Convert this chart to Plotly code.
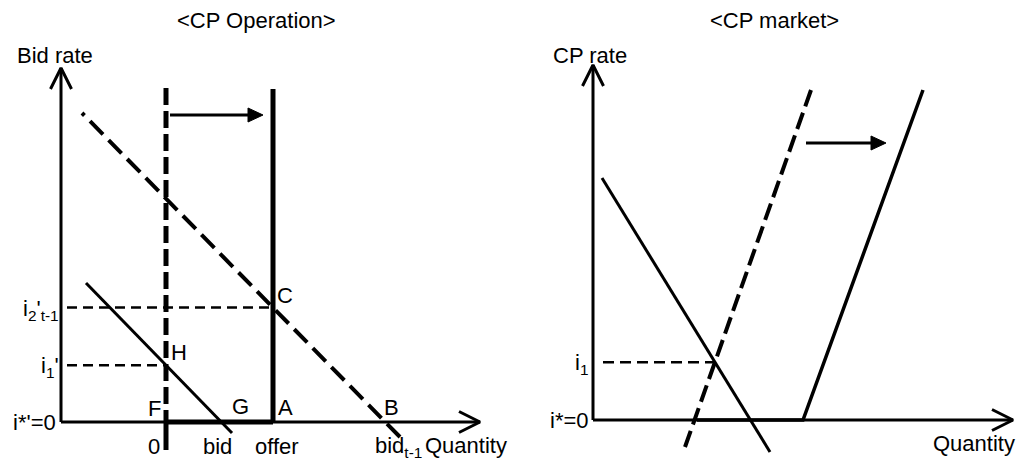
import plotly.graph_objects as go

# ---------------- data (diagram units) ----------------
# Left panel <CP Operation>: quantity origin at the old offer line, rate 0 at x-axis
op_rate_axis_q = -10.5
op_qty_axis_end = 31.4
op_rate_axis_end = 35.4
old_offer_q = 0.0
old_offer_r = [-2.8, 0.0, 33.4]
offer_q = 10.7
offer_r = [0.0, 33.3]
bid_prev_q = [23.4, -8.4]
bid_prev_r = [-1.5, 30.9]
bid_q = [-8.0, 6.6]
bid_r = [13.9, -1.1]
op_shift_q = [0.4, 9.7]
op_shift_r = 30.7
op_level_start_q = -9.9

# Right panel <CP market>
mk_qty_axis_end = 42.0
mk_rate_axis_end = 35.5
demand_q = [0.9, 17.7]
demand_r = [24.2, -3.2]
supply_old_q = [21.8, 9.2]
supply_old_r = [33.0, -2.7]
supply_new_q = [10.4, 21.0, 33.0]
supply_new_r = [0.0, 0.0, 33.0]
mk_shift_q = [21.3, 29.3]
mk_shift_r = 27.7
mk_level_start_q = 1.0


# ---------------- helpers ----------------
def line_at(qs, rs, q):
    return rs[0] + (rs[1] - rs[0]) * (q - qs[0]) / (qs[1] - qs[0])


def root_of(qs, rs, r=0.0):
    return qs[0] + (qs[1] - qs[0]) * (r - rs[0]) / (rs[1] - rs[0])


def intersect(q1, r1, q2, r2):
    m1 = (r1[1] - r1[0]) / (q1[1] - q1[0])
    m2 = (r2[1] - r2[0]) / (q2[1] - q2[0])
    q = (r2[0] - r1[0] + m1 * q1[0] - m2 * q2[0]) / (m1 - m2)
    return q, r1[0] + m1 * (q - q1[0])


BLACK = "black"
FONT = "Liberation Sans, Arial, sans-serif"
FS = 22

fig = go.Figure()


def seg(xs, ys, width, dash="solid", ax="1"):
    fig.add_trace(go.Scatter(
        x=xs, y=ys, mode="lines",
        line=dict(color=BLACK, width=width, dash=dash),
        xaxis="x" if ax == "1" else "x2", yaxis="y" if ax == "1" else "y2",
        hoverinfo="skip", showlegend=False))


def chevron(tq, tr, direction, ax, back=2.1, half=1.05, width=3):
    if direction == "up":
        xs, ys = [tq - half, tq, tq + half], [tr - back, tr, tr - back]
    else:
        xs, ys = [tq - back, tq, tq - back], [tr + half, tr, tr - half]
    seg(xs, ys, width, ax=ax)


def filled_head(tq, tr, ax, back=1.5, half=0.7):
    fig.add_trace(go.Scatter(
        x=[tq - back, tq, tq - back, tq - back], y=[tr + half, tr, tr - half, tr + half],
        mode="lines", fill="toself", fillcolor=BLACK, line=dict(color=BLACK, width=1),
        xaxis="x" if ax == "1" else "x2", yaxis="y" if ax == "1" else "y2",
        hoverinfo="skip", showlegend=False))


# ---------------- left panel ----------------
r_C = line_at(bid_prev_q, bid_prev_r, offer_q)
r_H = line_at(bid_q, bid_r, old_offer_q)
q_G = root_of(bid_q, bid_r)
q_B = root_of(bid_prev_q, bid_prev_r)

# axes
seg([op_rate_axis_q, op_rate_axis_q], [0, op_rate_axis_end], 3)
chevron(op_rate_axis_q, op_rate_axis_end, "up", "1")
seg([op_rate_axis_q, op_qty_axis_end], [0, 0], 3)
chevron(op_qty_axis_end, 0, "right", "1")
seg([old_offer_q, offer_q], [0, 0], 5)

# level lines
seg([op_level_start_q, offer_q], [r_C, r_C], 2.5, "10px,6px")
seg([op_level_start_q, old_offer_q], [r_H, r_H], 2.5, "10px,6px")

# old offer (dashed) and new offer
seg([old_offer_q, old_offer_q], old_offer_r[:0:-1], 5, "17px,6px")
seg([old_offer_q, old_offer_q], old_offer_r[:2], 5)
seg([offer_q, offer_q], offer_r, 5)

# bids (previous bid drawn from its lower end so the dash pattern ends in a dot at the top)
seg(bid_prev_q, bid_prev_r, 4, "18.5px,8px")
seg(bid_q, bid_r, 3)

# shift arrow
seg([op_shift_q[0], op_shift_q[1] - 1.0], [op_shift_r, op_shift_r], 3)
filled_head(op_shift_q[1], op_shift_r, "1")

# ---------------- right panel ----------------
q_i1, r_i1 = intersect(demand_q, demand_r, supply_old_q, supply_old_r)

seg([0, 0], [0, mk_rate_axis_end], 3, ax="2")
chevron(0, mk_rate_axis_end, "up", "2")
seg([0, mk_qty_axis_end], [0, 0], 3, ax="2")
chevron(mk_qty_axis_end, 0, "right", "2")

seg([mk_level_start_q, q_i1], [r_i1, r_i1], 2.5, "11px,6px", ax="2")
seg(supply_old_q, supply_old_r, 4, "17.3px,6.8px", ax="2")
seg(supply_new_q, supply_new_r, 3.5, ax="2")
seg(demand_q, demand_r, 3, ax="2")

seg([mk_shift_q[0], mk_shift_q[1] - 1.0], [mk_shift_r, mk_shift_r], 3, ax="2")
filled_head(mk_shift_q[1], mk_shift_r, "2")

# ---------------- text ----------------
ann = []


def label(text, x, y, ax="1", xanchor="center", yanchor="middle", xshift=0, yshift=0, size=FS):
    ann.append(dict(
        text=text, x=x, y=y, xref="x" if ax == "1" else "x2", yref="y" if ax == "1" else "y2",
        showarrow=False, xanchor=xanchor, yanchor=yanchor, xshift=xshift, yshift=yshift,
        borderpad=0, font=dict(family=FONT, size=size, color=BLACK)))


label("Bid rate", op_rate_axis_q, op_rate_axis_end, xshift=-6, yshift=13)
label("i<sub>2</sub>'<sub>t-1</sub>", op_rate_axis_q, r_C, xanchor="right", xshift=-1, yshift=-2)
label("i<sub>1</sub>'", op_rate_axis_q, r_H, xanchor="right", xshift=-1, yshift=-2)
label("i*'=0", op_rate_axis_q, 0, xanchor="right", xshift=-4)
label("F", old_offer_q, 0, xshift=-12, yshift=14)
label("0", old_offer_q, 0, xshift=-12, yshift=-24)
label("H", old_offer_q, r_H, xshift=13, yshift=13)
label("G", q_G, 0, xshift=19, yshift=16)
label("A", offer_q, 0, xshift=12, yshift=15)
label("B", q_B, 0, xshift=6, yshift=15)
label("C", offer_q, r_C, xshift=12, yshift=12)
label("offer", offer_q, 0, xshift=4, yshift=-24)
label("bid", q_G, 0, xshift=-4, yshift=-24)
label("bid<sub>t-1</sub>", q_B, 0, xanchor="left", xshift=-11, yshift=-25)
label("Quantity", op_qty_axis_end, 0, xanchor="right", xshift=28, yshift=-23)

label("CP rate", 0, mk_rate_axis_end, ax="2", xshift=-3, yshift=10)
label("i<sub>1</sub>", 0, r_i1, ax="2", xanchor="right", xshift=-4, yshift=-2)
label("i*=0", 0, 0, ax="2", xanchor="right", xshift=-3)
label("Quantity", mk_qty_axis_end, 0, ax="2", xanchor="right", xshift=3, yshift=-23)

for t, px in (("&lt;CP Operation&gt;", 256), ("&lt;CP market&gt;", 774)):
    ann.append(dict(text=t, x=px / 1021, y=1 - 21 / 461, xref="paper", yref="paper",
                    showarrow=False, xanchor="center", yanchor="middle", borderpad=0,
                    font=dict(family=FONT, size=FS, color=BLACK)))

split = 510 / 1021
fig.update_layout(
    width=1021, height=461,
    margin=dict(l=0, r=0, t=0, b=0),
    paper_bgcolor="white", plot_bgcolor="white",
    xaxis=dict(domain=[0, split], range=[-16.6, 34.4], visible=False, fixedrange=True),
    yaxis=dict(domain=[0, 1], range=[-3.9, 42.2], visible=False, fixedrange=True),
    xaxis2=dict(domain=[split, 1], range=[-8.3, 42.8], visible=False, fixedrange=True),
    yaxis2=dict(domain=[0, 1], range=[-4.1, 42.0], visible=False, fixedrange=True, anchor="x2"),
    annotations=ann,
    showlegend=False,
)

fig.write_html(
    "out.html",
    config={"displayModeBar": False},
    post_script="document.body.style.margin='0';document.body.style.overflow='hidden';",
)
